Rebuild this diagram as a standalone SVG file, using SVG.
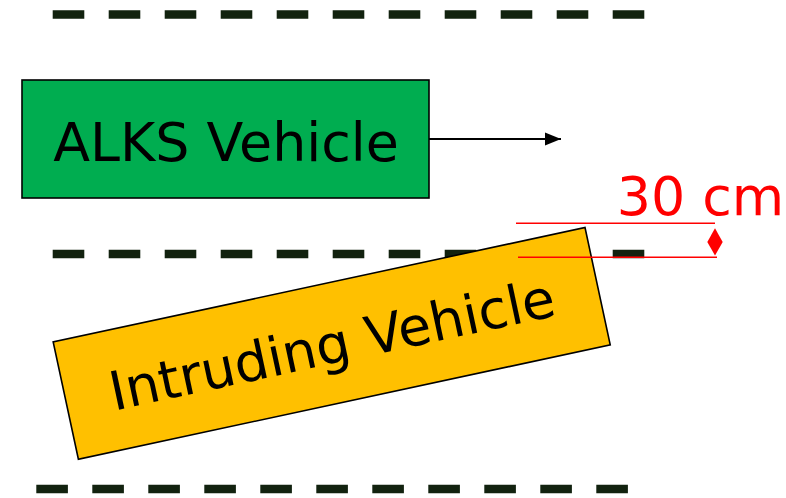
<svg xmlns="http://www.w3.org/2000/svg" width="786" height="498" viewBox="0 0 786 498">
  <style>
    .lane { stroke: #12220f; stroke-width: 8.4; stroke-dasharray: 31.6 24.4; fill: none; }
    .lbl { font-family: "DejaVu Sans", Verdana, sans-serif; font-size: 53.8px; }
    .box { stroke: #000; stroke-width: 1.6; }
    .red { stroke: #ff0000; stroke-width: 1.6; fill: none; }
  </style>
  <defs>
    <marker id="arrowHead" markerWidth="16" markerHeight="14" refX="16" refY="7" orient="auto" markerUnits="userSpaceOnUse">
      <polygon points="0,0.5 16,7 0,13.5" fill="#000"/>
    </marker>
  </defs>
  <rect width="786" height="498" fill="#ffffff"/>

  <g id="lanes">
    <line class="lane" x1="52.7" y1="14.5" x2="645" y2="14.5"/>
    <line class="lane" x1="52.7" y1="254" x2="645" y2="254"/>
    <line class="lane" x1="36.3" y1="489" x2="629" y2="489"/>
  </g>

  <g id="alks-vehicle">
    <rect class="box" x="22" y="80" width="407" height="118" fill="#00ad50"/>
    <text class="lbl" x="226" y="160.5" text-anchor="middle" fill="#000">ALKS Vehicle</text>
  </g>

  <g id="intruding-vehicle" transform="translate(331.7 343.4) rotate(-12.14)">
    <rect class="box" x="-272" y="-60" width="544" height="120" fill="#ffc000"/>
    <text class="lbl" x="0" y="20" text-anchor="middle" fill="#000">Intruding Vehicle</text>
  </g>

  <g id="connectors">
    <line x1="429" y1="139" x2="561" y2="139" stroke="#000" stroke-width="2" marker-end="url(#arrowHead)"/>
  </g>

  <g id="gap-dimension">
    <line class="red" x1="516" y1="223.3" x2="715" y2="223.3"/>
    <line class="red" x1="518" y1="257.3" x2="717" y2="257.3"/>
    <polygon points="715,228.3 722.7,242 715,255.5 707.3,242" fill="#ff0000"/>
    <text class="lbl" x="700.5" y="215" text-anchor="middle" fill="#ff0000">30 cm</text>
  </g>
</svg>
